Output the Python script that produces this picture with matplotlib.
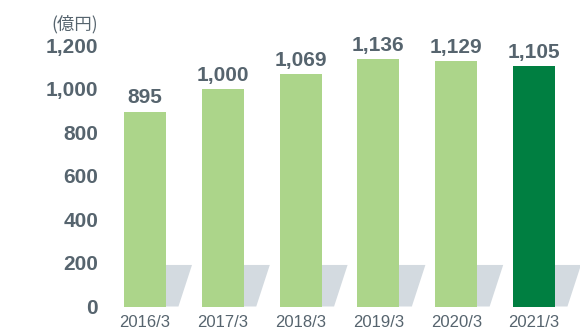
import numpy as np
import matplotlib.pyplot as plt
from matplotlib.patches import Polygon

# 売上高の推移 (億円)
periods = ['2016/3', '2017/3', '2018/3', '2019/3', '2020/3', '2021/3']
sales = [895, 1000, 1069, 1136, 1129, 1105]
yticks = [0, 200, 400, 600, 800, 1000, 1200]

light_green = '#acd58a'
dark_green = '#007f41'
shadow_col = '#d3dae0'
text_col = '#56646e'

W, H = 582, 330
fig = plt.figure(figsize=(W / 100, H / 100), dpi=100)

# axes placed in pixel terms: zero line at y=306.5, 1200 at y=45.5
left_px, right_px = 105, 580
bottom_px, top_px = 306.5, 45.5
ax = fig.add_axes([left_px / W, (H - bottom_px) / H,
                   (right_px - left_px) / W, (bottom_px - top_px) / H])

step = 77.8      # pixels between bar centres
first = 145      # centre of first bar, pixels
ax.set_xlim((left_px - first) / step, (right_px - first) / step)
ax.set_ylim(0, 1200)

x = np.arange(len(periods))
bar_w = 0.54
colors = [light_green] * (len(periods) - 1) + [dark_green]

# slanted shadow behind each bar
sh_h = 191
for xi in x:
    xr = xi + bar_w / 2
    poly = Polygon([(xr - 0.05, 0), (xr - 0.05, sh_h), (xr + 0.334, sh_h), (xr + 0.16, 0)],
                   closed=True, facecolor=shadow_col, edgecolor='none', zorder=1)
    ax.add_patch(poly)

ax.bar(x, sales, width=bar_w, color=colors, zorder=2)

num_font = dict(family='Liberation Sans', weight='bold', color=text_col)
for xi, v in zip(x, sales):
    ax.text(xi, v + 20, f'{v:,}', ha='center', va='bottom', fontsize=15, **num_font)

ax.set_yticks(yticks)
ax.set_yticklabels([f'{t:,}' for t in yticks], fontsize=15, **num_font)
ax.set_xticks(x)
ax.set_xticklabels(periods, fontsize=12, family='Liberation Sans', color=text_col)
ax.tick_params(axis='y', length=0, pad=5)
ax.tick_params(axis='x', length=0, pad=6)
for s in ax.spines.values():
    s.set_visible(False)

fig.text(98 / W, 1 - 24.5 / H, '(億円)', ha='right', va='center', fontsize=12.5,
         family=['Noto Sans CJK JP', 'DejaVu Sans'], color=text_col)

fig.savefig('out.png', dpi=100)
